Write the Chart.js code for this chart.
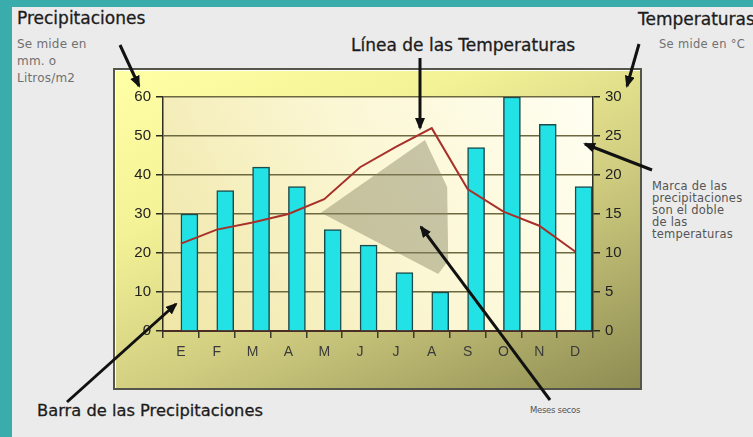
<!DOCTYPE html>
<html>
<head>
<meta charset="utf-8">
<script src="https://cdn.jsdelivr.net/npm/chart.js@4.4.1/dist/chart.umd.min.js"></script>
<style>
body{margin:0;width:753px;height:437px;overflow:hidden;background:#ebebeb;position:relative;font-family:"DejaVu Sans",sans-serif}
.teal{position:absolute;background:#3aacab}
#frame{position:absolute;left:113px;top:68px;width:525px;height:318px;border:2px solid #55554a;
  background:linear-gradient(155deg,#ffffa6 0%,#f4f296 30%,#cfcc80 60%,#8e8c52 100%);box-shadow:1px 1px 0 #fff inset}
#wrap{position:absolute;left:113px;top:68px;width:529px;height:322px}
.t{position:absolute;white-space:nowrap;color:#1c1c1c}
.big{font-size:17px;-webkit-text-stroke:0.3px #1c1c1c}
.small{font-size:12px;color:#707070;line-height:17px;letter-spacing:0.2px}
.note{font-size:11.5px;color:#555;line-height:12px;letter-spacing:0.2px}
svg{position:absolute;left:0;top:0}
</style>
</head>
<body>
<div class="teal" style="left:0;top:0;width:12px;height:437px"></div>
<div class="teal" style="left:0;top:0;width:753px;height:7px"></div>
<div id="frame"></div>
<div id="wrap"><canvas id="clima" width="529" height="322"></canvas></div>

<div class="t big" style="left:17px;top:8px">Precipitaciones</div>
<div class="t small" style="left:17px;top:36px">Se mide en<br>mm. o<br>Litros/m2</div>
<div class="t big" style="left:638px;top:9px">Temperaturas</div>
<div class="t small" style="left:659px;top:36px;font-size:11.5px;letter-spacing:0.3px">Se mide en °C</div>
<div class="t big" style="left:351px;top:35px">Línea de las Temperaturas</div>
<div class="t note" style="left:652px;top:180px">Marca de las<br>precipitaciones<br>son el doble<br>de las<br>temperaturas</div>
<div class="t big" style="left:37px;top:401px;font-size:16.3px">Barra de las Precipitaciones</div>
<div class="t note" style="left:530px;top:404px;font-size:8.5px;letter-spacing:-0.3px">Meses secos</div>

<svg width="753" height="437">
  <defs>
    <marker id="ah" markerWidth="12" markerHeight="10" refX="10" refY="5" orient="auto" markerUnits="userSpaceOnUse">
      <path d="M0,0 L12,5 L0,10 z" fill="#111"/>
    </marker>
  </defs>
  <g stroke="#111" stroke-width="3" marker-end="url(#ah)">
    <line x1="120" y1="45" x2="139" y2="86"/>
    <line x1="420" y1="58" x2="420" y2="128"/>
    <line x1="639" y1="44" x2="627" y2="86"/>
    <line x1="652" y1="170" x2="585" y2="144"/>
    <line x1="550" y1="400" x2="421" y2="227"/>
    <line x1="67" y1="402" x2="176" y2="304"/>
  </g>
</svg>

<script>
// Datos del climograma
const meses=["E","F","M","A","M","J","J","A","S","O","N","D"];
const precipitaciones=[30,36,42,37,26,22,15,10,47,60,53,37];
const temperaturas=[11.2,13,13.9,15,16.9,21,23.6,26,18.2,15.3,13.5,10.2];
// Zona de meses secos (indice de mes, mm)
const secosArriba=[{x:3.91,y:30.3},{x:6.81,y:49},{x:7.43,y:36.9},{x:7.46,y:18}];
const secosAbajo=[{x:3.91,y:30.3},{x:7.18,y:14.6},{x:7.46,y:18}];

Chart.defaults.font.family="'Liberation Sans', Arial, sans-serif";
Chart.defaults.color="#333";

const fondoPlot={
  id:"fondoPlot",
  beforeDraw(chart){
    const {ctx,chartArea:a}=chart;
    const g=ctx.createLinearGradient(a.left,a.bottom,a.right,a.top);
    g.addColorStop(0,"#efe6a6"); g.addColorStop(0.5,"#fbf6d2"); g.addColorStop(1,"#fffff2");
    ctx.save(); ctx.fillStyle=g; ctx.fillRect(a.left,a.top,a.right-a.left,a.bottom-a.top); ctx.restore();
  }
};

new Chart(document.getElementById("clima"),{
  data:{
    labels:meses,
    datasets:[
      {type:"line",data:secosArriba,xAxisID:"xs",yAxisID:"y",borderWidth:0,pointRadius:0,tension:0,fill:false,order:3,backgroundColor:"rgba(135,133,100,0.45)"},
      {type:"line",data:secosAbajo,xAxisID:"xs",yAxisID:"y",borderWidth:0,pointRadius:0,tension:0,fill:"-1",order:3,backgroundColor:"rgba(135,133,100,0.45)"},
      {type:"bar",data:precipitaciones,xAxisID:"x",yAxisID:"y",backgroundColor:"#22e2e6",borderColor:"#1b4b4b",borderWidth:1.5,
        barThickness:17,order:2},
      {type:"line",data:temperaturas,xAxisID:"x",yAxisID:"yT",borderColor:"#a8302a",borderWidth:2,pointRadius:0,tension:0,fill:false,order:1}
    ]
  },
  options:{
    responsive:false,animation:false,
    layout:{padding:{top:29,left:0,right:0,bottom:0}},
    plugins:{legend:{display:false},tooltip:{enabled:false}},
    scales:{
      x:{type:"category",offset:true,
        grid:{drawOnChartArea:false,tickLength:7,tickColor:"#3a3a2a",offset:true,lineWidth:1.5},
        border:{display:true,color:"#4a2e26",width:2},
        ticks:{font:{size:14},color:"#3a3a3a",padding:6},
        afterFit(s){s.height=59;}},
      xs:{type:"linear",display:false,min:-0.5,max:11.5},
      y:{position:"left",min:0,max:60,
        grid:{color:"#6c6840",lineWidth:1.5,tickLength:7,tickColor:"#2a2a20"},
        border:{display:true,color:"#2e2e22",width:1.5},
        ticks:{stepSize:10,font:{size:15},color:"#222",padding:5},
        afterFit(s){s.width=50;}},
      yT:{position:"right",min:0,max:30,
        grid:{drawOnChartArea:false,tickLength:7,tickColor:"#2a2a20",lineWidth:1.5},
        border:{display:true,color:"#2e2e22",width:1.5},
        ticks:{stepSize:5,font:{size:15},color:"#222",padding:5},
        afterFit(s){s.width=49;}}
    }
  },
  plugins:[fondoPlot]
});
</script>
</body>
</html>
